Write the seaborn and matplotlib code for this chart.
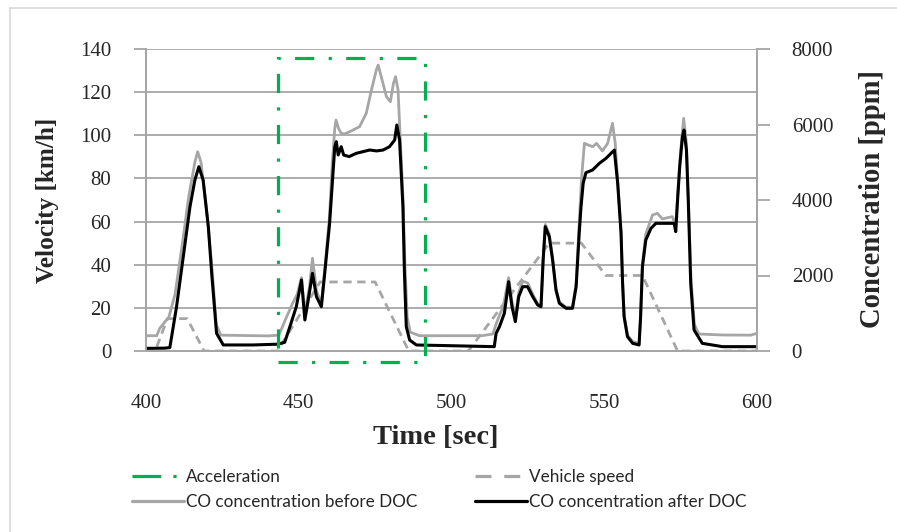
import matplotlib
matplotlib.use("Agg")
import matplotlib.pyplot as plt
from matplotlib.patches import Rectangle
from matplotlib.lines import Line2D
import pandas as pd
import seaborn as sns

sns.set_style("white")
plt.rcParams['font.family'] = ['Liberation Serif', 'DejaVu Serif']

# vehicle speed [km/h]
speed_t = [400, 403, 407, 413.5, 419, 443, 457, 475, 486, 505.5, 532, 542.5,
           550.5, 562.5, 574, 600]
speed_v = [0, 0, 15, 15, 0, 0, 32, 32, 0, 0, 50, 50, 35, 35, 0, 0]

# CO concentration after DOC [ppm]
after_t = [400, 406, 407.8, 410.0, 412.2, 414.4, 416.0, 417.3, 418.7, 420.4,
           421.5, 423.1, 425.3, 435, 443, 445.4, 447.1, 449.2, 450.9, 452.0,
           453, 454.5, 455.8, 457.4, 458.5, 460.1, 461.2, 461.8, 462.3, 462.9,
           463.9, 464.7, 466.5, 468.8, 471, 473.2, 475.5, 477.6, 479.7, 481.4,
           482.1, 483, 484.1, 484.6, 485.2, 486.3, 488.5, 500, 514, 514.6,
           515.7, 517.3, 518.7, 519.8, 520.9, 522, 523.3, 524.9, 526.6, 528.2,
           529.3, 530, 530.7, 532, 533.1, 534.2, 535.3, 537.5, 539.6, 540.8,
           541.8, 542.4, 543.1, 544, 546.2, 548.4, 550.6, 553.3, 554.4, 555.5,
           556, 556.5, 557.6, 559.3, 561.4, 561.9, 562.5, 563.6, 565.3, 566.9,
           570.2, 572.9, 573.4, 574, 574.7, 575.6, 576.1, 576.9, 577.5, 578.3,
           579.4, 582.1, 588.7, 600]
after_ppm = [70, 75, 90, 1174, 2498, 3823, 4530, 4882, 4530, 3293,
             2057, 468, 160, 160, 180, 230, 644, 1174, 1881, 821,
             1300, 2057, 1438, 1174, 2057, 3382, 4707, 5412, 5545, 5192,
             5412, 5192, 5150, 5236, 5280, 5324, 5300, 5324, 5412, 5589,
             5987, 5589, 3823, 2057, 644, 291, 159, 140, 115, 468,
             644, 998, 1836, 1174, 777, 1438, 1704, 1704, 1438, 1219,
             1174, 2411, 3293, 3028, 2411, 1616, 1264, 1131, 1131, 1704,
             3118, 3823, 4442, 4724, 4795, 4972, 5105, 5324, 4442, 3118,
             1793, 909, 380, 203, 159, 909, 2233, 2940, 3250, 3382,
             3382, 3382, 3161, 4000, 4882, 5677, 5854, 5324, 4000, 1793,
             556, 203, 115, 115]

# CO concentration before DOC [ppm]
before_t = [400, 403.5, 404.5, 407.5, 409.5, 412, 414, 416, 416.9, 418,
            420, 421.5, 423, 424.5, 440, 443.5, 446, 448, 449.5, 450.9,
            452, 453.5, 454.5, 455.8, 457.4, 458.5, 460, 461, 461.8, 462.2,
            463, 463.9, 465, 466.7, 469.9, 472.1, 473.8, 475.4, 476, 477,
            478.7, 480, 481, 481.7, 482.5, 483, 484.1, 484.8, 485.5, 486.5,
            489.5, 510, 513.5, 515, 517, 518.7, 519.8, 520.9, 522, 523.3,
            525, 526.6, 528.2, 529.3, 530, 530.7, 532, 533.1, 534.2, 535.3,
            537.5, 539.6, 540.8, 541.8, 542.6, 543.5, 546.2, 547.5, 549.4, 551.1,
            552.7, 553.6, 554.4, 555.5, 556, 556.5, 557.6, 559.3, 561.4, 561.9,
            562.5, 563.6, 565.8, 567.4, 569, 572.3, 573.4, 574, 575, 576,
            576.9, 577.5, 578.4, 579.5, 581, 588.7, 598, 600]
before_ppm = [405, 405, 600, 900, 1500, 2900, 4100, 5000, 5280, 5000,
              3600, 2300, 700, 420, 400, 420, 900, 1264, 1500, 1943,
              1000, 1700, 2457, 1600, 1250, 2150, 3500, 5000, 5900, 6119,
              5900, 5766, 5750, 5810, 5942, 6296, 6914, 7444, 7576, 7267,
              6737, 6605, 7091, 7267, 6914, 6031, 4100, 2200, 900, 500,
              405, 405, 450, 800, 1200, 1943, 1300, 900, 1550, 1850,
              1800, 1500, 1250, 1200, 2450, 3350, 3100, 2450, 1650, 1300,
              1160, 1160, 1800, 3400, 4600, 5500, 5412, 5500, 5300, 5500,
              6031, 5500, 4500, 3150, 1850, 950, 420, 250, 200, 950,
              2300, 3100, 3603, 3647, 3500, 3560, 3300, 4100, 5300, 6164,
              5500, 4100, 1900, 700, 450, 424, 420, 470]

accel_window = (443.2, 491.2)

speed_df = pd.DataFrame({'t': speed_t, 'v': speed_v})
after_df = pd.DataFrame({'t': after_t, 'ppm': after_ppm})
before_df = pd.DataFrame({'t': before_t, 'ppm': before_ppm})

W, H = 897, 532
fig = plt.figure(figsize=(W / 100, H / 100), dpi=100)
ax = fig.add_axes([146 / W, 1 - 351 / H, (757 - 146) / W, (351 - 49) / H])
ax2 = ax.twinx()

grid_c = '#A6A6A6'
light = '#A6A6A6'
green = '#00B050'
accel_dash = (0, (6, 4.5, 1, 4.5))

sns.lineplot(data=speed_df, x='t', y='v', ax=ax, color=light, linewidth=2.0,
             linestyle=(0, (3, 2)))
sns.lineplot(data=before_df, x='t', y='ppm', ax=ax2, color=light, linewidth=2.0)
sns.lineplot(data=after_df, x='t', y='ppm', ax=ax2, color='black', linewidth=2.2)

ax.set_xlim(400, 600)
ax.set_ylim(0, 140)
ax2.set_ylim(0, 8000)
ax.set_xticks(range(400, 601, 50))
ax.set_yticks(range(0, 141, 20))
ax2.set_yticks(range(0, 8001, 2000))

ax.grid(axis='y', color=grid_c, linewidth=1.3)
ax.set_axisbelow(True)
for a in (ax, ax2):
    a.spines['top'].set_visible(False)
    for s in ['left', 'right', 'bottom']:
        a.spines[s].set_color(grid_c)
        a.spines[s].set_linewidth(1.3)
    a.tick_params(direction='out', length=9, width=1.3, color=grid_c,
                  labelsize=15, labelcolor='#262626')
ax.tick_params(axis='y', pad=16)
ax.tick_params(axis='x', pad=22)
ax2.tick_params(axis='y', pad=16)

ax.set_xlabel('Time [sec]', fontsize=20.5, fontweight='bold')
ax.set_ylabel('Velocity [km/h]', fontsize=18.2, fontweight='bold')
ax2.set_ylabel('Concentration [ppm]', fontsize=20.6, fontweight='bold')
ax.xaxis.set_label_coords((436 - 146) / 611, (351 - 437) / 302)
ax.yaxis.set_label_coords((47 - 146) / 611, (351 - 200) / 302)
ax2.yaxis.set_label_coords((873 - 146) / 611, (351 - 199) / 302)
for lab in (ax.xaxis.label, ax.yaxis.label, ax2.yaxis.label):
    lab.set_va('center')
    lab.set_ha('center')

# acceleration window drawn as a box reaching slightly past the axes
box = Rectangle((accel_window[0], -5.1), accel_window[1] - accel_window[0], 140.8,
                transform=ax.transData, fill=False, edgecolor=green, linewidth=2.3,
                linestyle=accel_dash, clip_on=False, zorder=10)
ax2.add_patch(box)

handles = [
    Line2D([], [], color=green, linewidth=2.3, linestyle=(0, (9, 3.8, 1, 6))),
    Line2D([], [], color=light, linewidth=2.3),
    Line2D([], [], color=light, linewidth=2.3, linestyle=(0, (5, 4))),
    Line2D([], [], color='black', linewidth=2.3),
]
labels = ['Acceleration', 'CO concentration before DOC',
          'Vehicle speed', 'CO concentration after DOC']
fig.legend(handles, labels, ncol=2, loc='upper left',
           bbox_to_anchor=(132 / W, 1 - 469 / H), frameon=False,
           prop={'family': ['Lato', 'DejaVu Sans'], 'size': 12.3},
           handlelength=3.05, handletextpad=0.1, columnspacing=3.4,
           labelspacing=0.5, borderpad=0, borderaxespad=0)

# chart area border fragments (left and top)
fig.add_artist(Line2D([10 / W, 10 / W], [0, 1 - 8 / H], transform=fig.transFigure,
                      color='#D9D9D9', linewidth=1.2))
fig.add_artist(Line2D([10 / W, 1], [1 - 8 / H, 1 - 8 / H], transform=fig.transFigure,
                      color='#D9D9D9', linewidth=1.2))

fig.savefig('out.png', dpi=100)
